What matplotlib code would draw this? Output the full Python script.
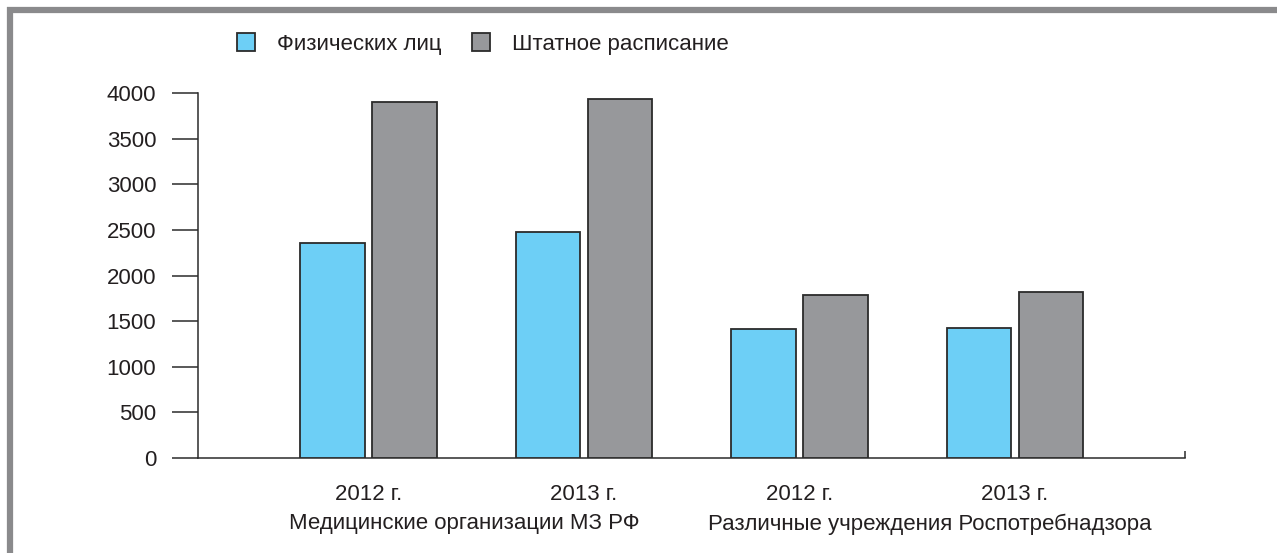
import numpy as np
import matplotlib.pyplot as plt
import matplotlib.transforms as mtransforms
from matplotlib.lines import Line2D

plt.rcParams["font.family"] = ["Liberation Sans", "DejaVu Sans"]

# -------------------------------------------------------
# Data
# -------------------------------------------------------
years = ["2012 г.", "2013 г.", "2012 г.", "2013 г."]
groups = ["Медицинские организации МЗ РФ", "Различные учреждения Роспотребнадзора"]
series_names = ["Физических лиц", "Штатное расписание"]
persons = [2360, 2480, 1410, 1420]
staff = [3900, 3935, 1790, 1815]

blue = "#6dcff6"
grey = "#97989b"
edge = "#2b2b2b"
text_col = "#231f20"
fs = 16

# -------------------------------------------------------
# Figure
# -------------------------------------------------------
W, H = 1277, 553
fig = plt.figure(figsize=(W / 100, H / 100), dpi=100)
ax = fig.add_axes([198 / W, 1 - 458 / H, (1185 - 198) / W, (458 - 93) / H])

x = np.arange(len(years))
w = 0.30
off = 0.167

ax.bar(x - off, persons, w, color=blue, edgecolor=edge, linewidth=1.3,
       label=series_names[0], zorder=3)
ax.bar(x + off, staff, w, color=grey, edgecolor=edge, linewidth=1.3,
       label=series_names[1], zorder=3)

ax.set_xlim(-0.791, 3.789)
ax.set_ylim(0, 4000)

# spines
for s in ["top", "right"]:
    ax.spines[s].set_visible(False)
for s in ["left", "bottom"]:
    ax.spines[s].set_linewidth(1.1)
    ax.spines[s].set_color(edge)

# y ticks
ax.set_yticks(np.arange(0, 4001, 500))
ax.tick_params(axis="y", direction="out", length=19, width=1.1, color=edge,
               pad=11, labelsize=fs, labelcolor=text_col)

# x ticks: labels only
ax.set_xticks(x)
ax.set_xticklabels(years)
ax.tick_params(axis="x", length=0, pad=19, labelsize=fs, labelcolor=text_col)

# small inward tick at right end of x axis
ax.set_xticks([3.789], minor=True)
ax.tick_params(axis="x", which="minor", direction="in", length=5, width=1.1,
               color=edge)

# group labels
trans = mtransforms.blended_transform_factory(ax.transData, fig.transFigure)
label_x = [0.443, 2.606]
for gx, g in zip(label_x, groups):
    ax.text(gx, 1 - 524 / H, g, transform=trans,
            ha="center", va="center", fontsize=fs, color=text_col)

# legend
fig.legend(loc="center left", bbox_to_anchor=(237 / W, 1 - 44 / H),
           ncol=2, frameon=False, fontsize=fs, handlelength=0.81,
           handleheight=0.81, handletextpad=1.0, columnspacing=1.35,
           borderpad=0, borderaxespad=0, labelcolor=text_col)

# grey frame on top and left
frame = "#8a8a8c"
fig.add_artist(Line2D([7 / W, 1], [1 - 10 / H, 1 - 10 / H],
                      transform=fig.transFigure, color=frame, linewidth=4.5,
                      solid_capstyle="butt"))
fig.add_artist(Line2D([10 / W, 10 / W], [0, 1 - 7 / H],
                      transform=fig.transFigure, color=frame, linewidth=4.5,
                      solid_capstyle="butt"))

fig.savefig("out.png", dpi=100, facecolor="white")
